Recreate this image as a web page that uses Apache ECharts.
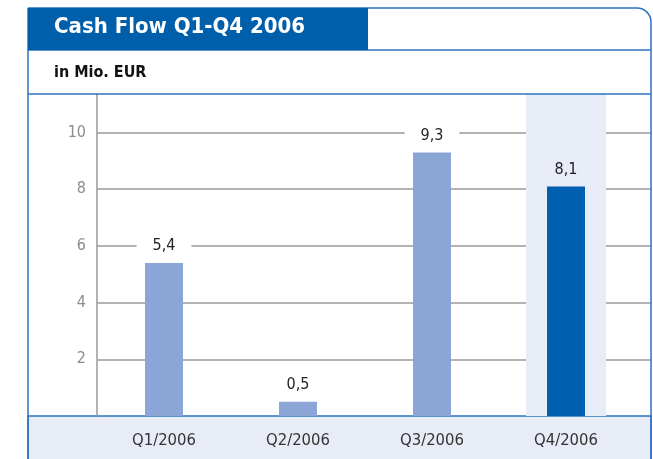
<!DOCTYPE html>
<html>
<head>
<meta charset="utf-8">
<style>
  html, body { margin: 0; padding: 0; background: #fff; }
  #chart { width: 653px; height: 459px; }
</style>
<script src="https://cdn.jsdelivr.net/npm/echarts@6/dist/echarts.min.js"></script>
</head>
<body>
<div id="chart"></div>
<script>
// data
const categories = ['Q1/2006', 'Q2/2006', 'Q3/2006', 'Q4/2006']
const cashFlow = [5.4, 0.5, 9.3, 8.1]
const highlightIndex = 3
const yMin = 0
const yMax = 11.36
const yStep = 2

const lightBar = '#8aa5d6'
const darkBar = '#005fae'
const bandColor = '#e8ecf6'
const frameBlue = '#2b74c2'
const font = 'DejaVu Sans Condensed'

const fmt = v => v.toFixed(1).replace('.', ',')

const chart = echarts.init(document.getElementById('chart'))

chart.setOption({
  backgroundColor: '#fff',
  animation: false,
  grid: [
    { left: 97, right: 20, top: 94, bottom: 43 },
    // wider grid only for the horizontal guide lines
    { left: 97, right: 2, top: 94, bottom: 43 }
  ],
  xAxis: [
    {
      type: 'category',
      gridIndex: 0,
      data: categories,
      axisLine: { show: false },
      axisTick: { show: false },
      axisLabel: {
        margin: 16,
        color: '#333',
        fontFamily: font,
        fontSize: 16.5
      }
    },
    {
      // highlight band axis
      type: 'category',
      gridIndex: 0,
      data: categories,
      show: false
    },
    {
      type: 'value',
      gridIndex: 1,
      show: false
    }
  ],
  yAxis: [
    {
      type: 'value',
      gridIndex: 0,
      min: yMin,
      max: yMax,
      interval: yStep,
      axisLine: { show: true, lineStyle: { color: '#9a9a9a', width: 1.5 } },
      axisTick: { show: false },
      splitLine: { show: false },
      axisLabel: {
        margin: 11,
        color: '#8c8c8c',
        fontFamily: font,
        fontSize: 16,
        showMinLabel: false,
        showMaxLabel: false
      }
    },
    {
      type: 'value',
      gridIndex: 1,
      min: yMin,
      max: yMax,
      interval: yStep,
      axisLine: { show: false },
      axisTick: { show: false },
      axisLabel: { show: false },
      splitLine: {
        show: true,
        showMinLine: false,
        showMaxLine: false,
        lineStyle: { color: '#9a9a9a', width: 1.5 }
      }
    }
  ],
  graphic: [
    // bottom band behind the category labels
    {
      type: 'rect',
      z: -1,
      shape: { x: 28, y: 416, width: 623, height: 50 },
      style: { fill: bandColor, stroke: frameBlue, lineWidth: 1.5 }
    },
    // outer frame
    {
      type: 'rect',
      z: 10,
      shape: { x: 28, y: 8, width: 623, height: 470, r: [0, 14, 0, 0] },
      style: { fill: 'none', stroke: frameBlue, lineWidth: 1.5 }
    },
    {
      type: 'line',
      z: 10,
      shape: { x1: 28, y1: 50, x2: 651, y2: 50 },
      style: { stroke: frameBlue, lineWidth: 1.5 }
    },
    {
      type: 'line',
      z: 10,
      shape: { x1: 28, y1: 94, x2: 651, y2: 94 },
      style: { stroke: frameBlue, lineWidth: 1.5 }
    },
    // title box
    {
      type: 'rect',
      z: 11,
      shape: { x: 28, y: 8, width: 340, height: 42 },
      style: { fill: '#005faa' }
    },
    {
      type: 'text',
      z: 12,
      left: 54,
      top: 16,
      style: {
        text: 'Cash Flow Q1-Q4 2006',
        fill: '#fff',
        font: 'bold 22px "' + font + '"'
      }
    },
    {
      type: 'text',
      z: 12,
      left: 54,
      top: 65,
      style: {
        text: 'in Mio. EUR',
        fill: '#111',
        font: 'bold 16px "' + font + '"'
      }
    }
  ],
  series: [
    {
      name: 'band',
      type: 'bar',
      xAxisIndex: 1,
      yAxisIndex: 0,
      barWidth: 80,
      z: 1,
      silent: true,
      itemStyle: { color: bandColor },
      data: categories.map((c, i) => (i === highlightIndex ? yMax : '-'))
    },
    {
      name: 'Cash Flow',
      type: 'bar',
      xAxisIndex: 0,
      yAxisIndex: 0,
      barWidth: 38,
      z: 3,
      data: cashFlow.map((v, i) => ({
        value: v,
        itemStyle: { color: i === highlightIndex ? darkBar : lightBar },
        label: { backgroundColor: i === highlightIndex ? bandColor : '#fff' }
      })),
      label: {
        show: true,
        position: 'top',
        distance: 7,
        padding: [2, 16],
        lineHeight: 16,
        color: '#222',
        fontFamily: font,
        fontSize: 16,
        formatter: p => fmt(p.value)
      }
    }
  ]
})
</script>
</body>
</html>
